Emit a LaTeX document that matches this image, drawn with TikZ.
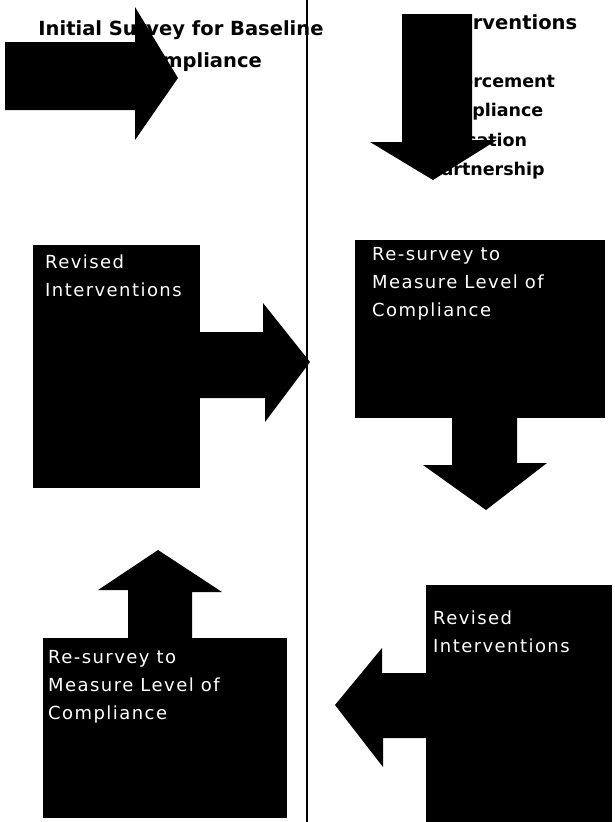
\documentclass[tikz,border=0pt]{standalone}
\usepackage{fontspec}
\setmainfont{DejaVu Sans}
\newfontfamily\boxfont[LetterSpace=8]{DejaVu Sans}
\begin{document}
\begin{tikzpicture}[x=1pt,y=-1pt,
  blk/.style={fill=black,draw=none},
  boxnode/.style={fill=black,draw=none,inner sep=0pt,anchor=north west},
  wtext/.style={text=white,inner sep=0pt,anchor=north west,align=left,
     font=\boxfont\fontsize{18}{28}\selectfont},
  ttext/.style={inner sep=0pt,font=\bfseries\fontsize{19.5}{32}\selectfont},
  itext/.style={inner sep=0pt,anchor=north west,align=left,
     font=\bfseries\fontsize{17.5}{29.5}\selectfont}]
\useasboundingbox (0,0) rectangle (614,822);
\fill[white] (0,0) rectangle (614,822);

% divider
\coordinate (ltop) at (307,0);
\coordinate (lbot) at (307,822);
\draw[line width=1.6pt] (ltop) -- (lbot);

% texts at top (arrows drawn over them)
\node[ttext] (t1) at (181,30) {Initial Survey for Baseline};
\node[ttext,anchor=east] (t2) at (262,62) {Compliance};
\node[ttext,anchor=west] (iv) at (429,22) {Interventions};
\node[itext] (items) at (429,74) {Enforcement\\Compliance\\Education\\Partnership};

% top arrows
\fill[blk] (5,42) -- (135,42) -- (135,7) -- (178,78) -- (135,140) -- (135,110) -- (5,110) -- cycle;
\fill[blk] (402,14) -- (472,14) -- (472,140) -- (497,140) -- (433,180) -- (370,142) -- (402,142) -- cycle;

% boxes
\node[boxnode,minimum width=167pt,minimum height=243pt] (b1) at (33,245) {};
\node[boxnode,minimum width=250pt,minimum height=178pt] (b2) at (355,240) {};
\node[boxnode,minimum width=244pt,minimum height=180pt] (b3) at (43,638) {};
\node[boxnode,minimum width=186pt,minimum height=237pt] (b4) at (426,585) {};

% box arrows
\fill[blk] (195,332) -- (263,332) -- (263,303) -- (310,362) -- (265,422) -- (265,398) -- (195,398) -- cycle;
\fill[blk] (452,415) -- (517,415) -- (517,463) -- (547,463) -- (486,510) -- (423,465) -- (452,465) -- cycle;
\fill[blk] (128,642) -- (128,590) -- (98,590) -- (158,550) -- (222,592) -- (192,592) -- (192,642) -- cycle;
\fill[blk] (430,673) -- (382,673) -- (382,648) -- (335,705) -- (383,767) -- (383,738) -- (430,738) -- cycle;

% box texts
\node[wtext] (w1) at (45,255) {Revised\\Interventions};
\node[wtext] (w2) at (372,247) {Re-survey to\\Measure Level of\\Compliance};
\node[wtext] (w3) at (48,650) {Re-survey to\\Measure Level of\\Compliance};
\node[wtext] (w4) at (433,611) {Revised\\Interventions};
\end{tikzpicture}
\end{document}
